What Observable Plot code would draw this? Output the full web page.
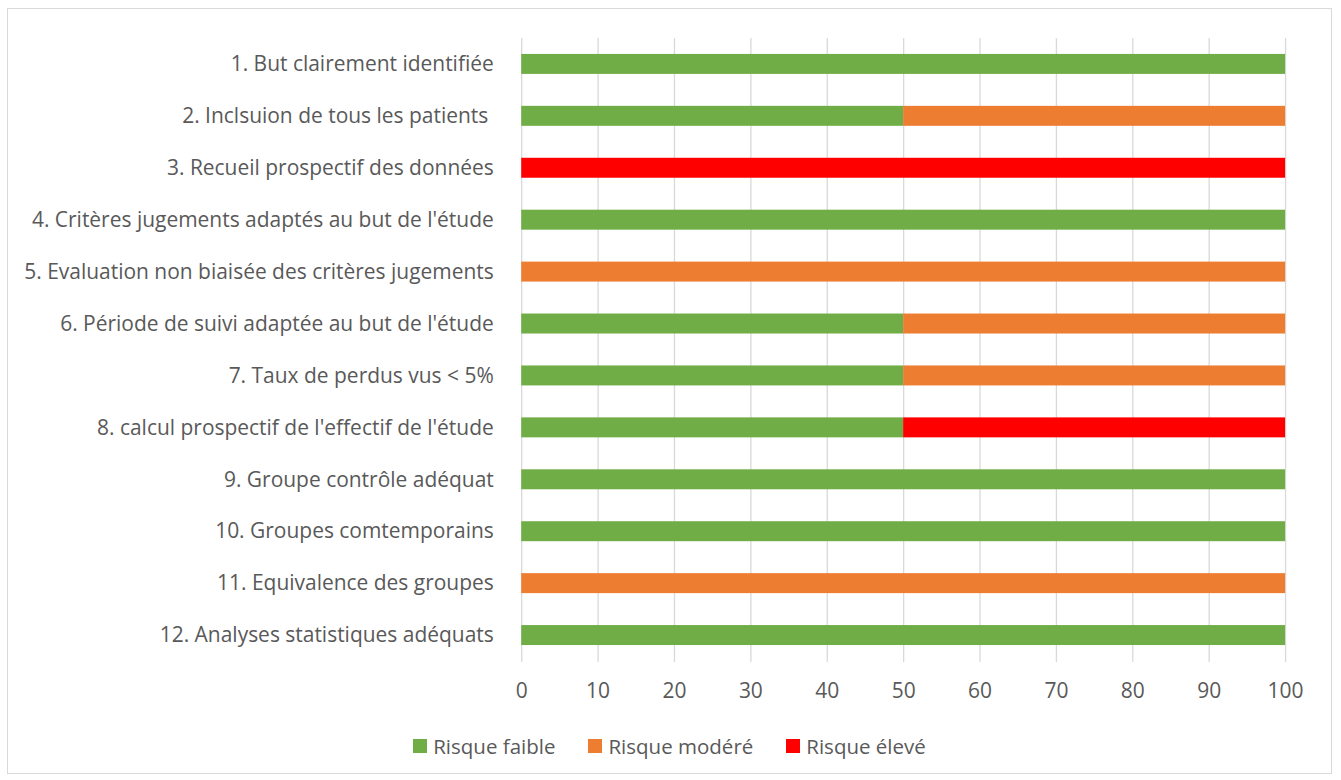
<!DOCTYPE html>
<html>
<head>
<meta charset="utf-8">
<script src="https://cdn.jsdelivr.net/npm/d3@7"></script>
<script src="https://cdn.jsdelivr.net/npm/@observablehq/plot@0.6"></script>
<style>
  html, body { margin: 0; padding: 0; background: #ffffff; }
  #frame {
    position: absolute; left: 7px; top: 8px; width: 1325px; height: 766px;
    border: 1px solid #d9d9d9; background: #fff; box-sizing: border-box;
  }
  #legend {
    position: absolute; left: 0; right: 0; top: 723px;
    display: flex; justify-content: center; align-items: center;
    font-family: "Open Sans", sans-serif; font-size: 20.5px; color: #595959;
  }
  .item { display: flex; align-items: center; margin: 0 16.5px; }
  .sw { width: 14px; height: 14px; margin-right: 6px; }
</style>
</head>
<body>
<div id="frame"><div id="chart"></div><div id="legend"></div></div>
<script>
const categories = [
  "1. But clairement identifiée",
  "2. Inclsuion de tous les patients ",
  "3. Recueil prospectif des données",
  "4. Critères jugements adaptés au but de l'étude",
  "5. Evaluation non biaisée des critères jugements",
  "6. Période de suivi adaptée au but de l'étude",
  "7. Taux de perdus vus < 5%",
  "8. calcul prospectif de l'effectif de l'étude",
  "9. Groupe contrôle adéquat",
  "10. Groupes comtemporains",
  "11. Equivalence des groupes",
  "12. Analyses statistiques adéquats"
];
const faible = [100, 50, 0, 100, 0, 50, 50, 50, 100, 100, 0, 100];
const modere = [0, 50, 0, 0, 100, 50, 50, 0, 0, 0, 100, 0];
const eleve  = [0, 0, 100, 0, 0, 0, 0, 50, 0, 0, 0, 0];
const series = ["Risque faible", "Risque modéré", "Risque élevé"];
const colors = ["#70ad47", "#ed7d31", "#ff0000"];
const xTicks = [0, 10, 20, 30, 40, 50, 60, 70, 80, 90, 100];

const seriesValues = [faible, modere, eleve];
const data = categories.flatMap((c, i) =>
  seriesValues.map((arr, j) => ({cat: c, s: series[j], v: arr[i]}))
);

const chart = Plot.plot({
  width: 1325,
  height: 700,
  marginLeft: 514,
  marginRight: 46,
  marginTop: 29,
  marginBottom: 46,
  style: {fontFamily: "'Open Sans', sans-serif", fontSize: "21px", color: "#595959", background: "white"},
  x: {domain: [0, 100], ticks: xTicks, tickSize: 0, tickPadding: 21, label: null},
  y: {domain: categories, paddingInner: 0.615, paddingOuter: 0.3075, tickSize: 0, tickPadding: 28, label: null},
  color: {domain: series, range: colors},
  marks: [
    Plot.ruleX(xTicks, {stroke: "#d9d9d9", strokeWidth: 1.3}),
    Plot.barX(data, Plot.stackX({x: "v", y: "cat", fill: "s", order: series}))
  ]
});
document.getElementById("chart").appendChild(chart);

const legend = document.getElementById("legend");
series.forEach((s, i) => {
  const it = document.createElement("div");
  it.className = "item";
  const sw = document.createElement("div");
  sw.className = "sw";
  sw.style.background = colors[i];
  const t = document.createElement("span");
  t.textContent = s;
  it.appendChild(sw); it.appendChild(t);
  legend.appendChild(it);
});
</script>
</body>
</html>
